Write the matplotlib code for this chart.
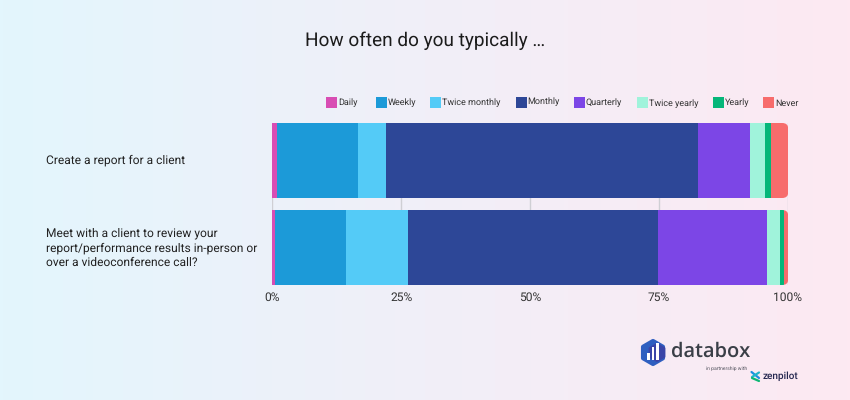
import numpy as np
import matplotlib
matplotlib.use("Agg")
import matplotlib.pyplot as plt
from matplotlib.colors import LinearSegmentedColormap
from matplotlib.patches import FancyBboxPatch, Rectangle, RegularPolygon
from matplotlib.transforms import IdentityTransform, ScaledTranslation

plt.rcParams['font.family'] = ['Roboto', 'DejaVu Sans']
plt.rcParams['text.hinting'] = 'no_hinting'
plt.rcParams['text.hinting_factor'] = 1

categories = ["Create a report for a client",
              "Meet with a client to review your\nreport/performance results in-person or\nover a videoconference call?"]
series_names = ["Daily", "Weekly", "Twice monthly", "Monthly", "Quarterly", "Twice yearly", "Yearly", "Never"]
daily = [0.9, 0.55]
weekly = [15.8, 13.65]
twice_monthly = [5.4, 12.05]
monthly = [60.55, 48.55]
quarterly = [10.05, 21.2]
twice_yearly = [2.9, 2.5]
yearly = [1.2, 0.8]
never = [3.2, 0.7]
series_values = [daily, weekly, twice_monthly, monthly, quarterly, twice_yearly, yearly, never]
x_ticks = [0, 25, 50, 75, 100]
x_labels = ["0%", "25%", "50%", "75%", "100%"]

colors = ["#D84DB4", "#1C9AD8", "#54CBF7", "#2D4797", "#7C46E6", "#A0F3DB", "#05B679", "#F76C6C"]
swatch_x = [326, 376, 430, 515.7, 574, 637, 712.7, 763]
swatch_y = [97, 97, 97, 97, 97, 97, 97, 97]
text_x = [338, 387.5, 442, 527.5, 586, 649, 725, 775]
text_y = [103, 103, 103, 102, 103, 103.5, 102.5, 103.5]
label_shift_px = [1, 2.5]

W, H = 850, 400
fig = plt.figure(figsize=(W / 100, H / 100), dpi=100)

bg = fig.add_axes([0, 0, 1, 1], zorder=0)
bg.set_xlim(0, W)
bg.set_ylim(H, 0)
bg.axis("off")
cmap = LinearSegmentedColormap.from_list("bg", ["#E3F6FD", "#F1EFF8", "#FDE9F2"])
bg.imshow(np.linspace(0, 1, 256)[None, :], cmap=cmap, extent=(0, W, H, 0), aspect="auto", zorder=0)

bg.text(425, 40.5, "How often do you typically …", ha="center", va="center", fontsize=13.33, color="#1c1c1c")

for name, c, sx, sy, tx, ty in zip(series_names, colors, swatch_x, swatch_y, text_x, text_y):
    bg.add_patch(Rectangle((sx, sy), 11, 11, facecolor=c, edgecolor="none", zorder=2))
    bg.text(tx, ty, name, ha="left", va="center", fontsize=6.72, color="#333333", zorder=2)

L, R, T, B = 272.4, 787.7, 123, 285
ax = fig.add_axes([L / W, 1 - B / H, (R - L) / W, (B - T) / H], zorder=1)
ax.patch.set_alpha(0)
ypos = np.arange(len(categories))
bar_h = 75 / 87
ax.set_ylim(1 + bar_h / 2, -bar_h / 2)
ax.set_xlim(0, 100)
for s in ax.spines.values():
    s.set_visible(False)
ax.set_xticks(x_ticks)
ax.set_xticklabels(x_labels, fontsize=8.9, color="#333333")
ax.set_yticks(ypos)
ax.set_yticklabels(categories, fontsize=8.6, color="#222222", ha="left", linespacing=1.36)
ax.tick_params(axis="x", length=0, pad=5)
ax.tick_params(axis="y", length=0, pad=(L - 46) * 0.72)
for lab, dy in zip(ax.get_yticklabels(), label_shift_px):
    lab.set_transform(lab.get_transform() + ScaledTranslation(0, dy / 100, fig.dpi_scale_trans))
ax.grid(axis="x", color="#CFCFD4", linewidth=1)
ax.set_axisbelow(True)

left = np.zeros(len(categories))
containers = []
for vals, c in zip(series_values, colors):
    bars = ax.barh(ypos, vals, left=left, height=bar_h, color=c, edgecolor="none", zorder=3)
    containers.append(bars)
    left = left + np.array(vals)

fig.canvas.draw()
radius = 6
for i in ypos:
    (x0, y0), (x1, y1) = ax.transData.transform([(0, i + bar_h / 2), (100, i - bar_h / 2)])
    clip = FancyBboxPatch((x0 - 20, y0), x1 - x0 + 20 + 0.6, y1 - y0,
                          boxstyle=f"round,pad=0,rounding_size={radius}",
                          transform=IdentityTransform())
    for bars in containers:
        bars[i].set_clip_path(clip)

# Logo
bg.add_patch(RegularPolygon((653, 352.5), 6, radius=11.5, facecolor="#2F5FC0", edgecolor="#2F5FC0",
                            linewidth=3, joinstyle="round", zorder=2))
bg.add_patch(RegularPolygon((657, 352.5), 6, radius=8.5, facecolor="#3A45A8", edgecolor="#3A45A8",
                            linewidth=1.5, joinstyle="round", zorder=2))
for bx, top in zip([647, 651.7, 656.4], [353, 347, 343]):
    bg.add_patch(Rectangle((bx, top), 2.8, 359.5 - top, facecolor="white", edgecolor="none", zorder=3))
bg.text(671.5, 352, "databox", ha="left", va="center", fontsize=14.7, fontweight="semibold",
        family=["Open Sans", "DejaVu Sans"], color="#3A3F47", zorder=3)
bg.text(706, 368.5, "in partnership with", ha="left", va="center", fontsize=3.9, color="#555560", zorder=3)
bg.text(763, 376, "zenpilot", ha="left", va="center", fontsize=7.2, fontweight="medium", color="#24264F", zorder=3)
for (xa, ya, xb, yb), c in zip([(751.5, 372, 759, 378), (759, 372.5, 752, 377), (752, 378, 759, 381)],
                               ["#1C8FE0", "#1FB5C9", "#0DB774"]):
    bg.plot([xa, xb], [ya, yb], color=c, linewidth=1.6, solid_capstyle="round", zorder=3)

fig.savefig("out.png", dpi=100)
